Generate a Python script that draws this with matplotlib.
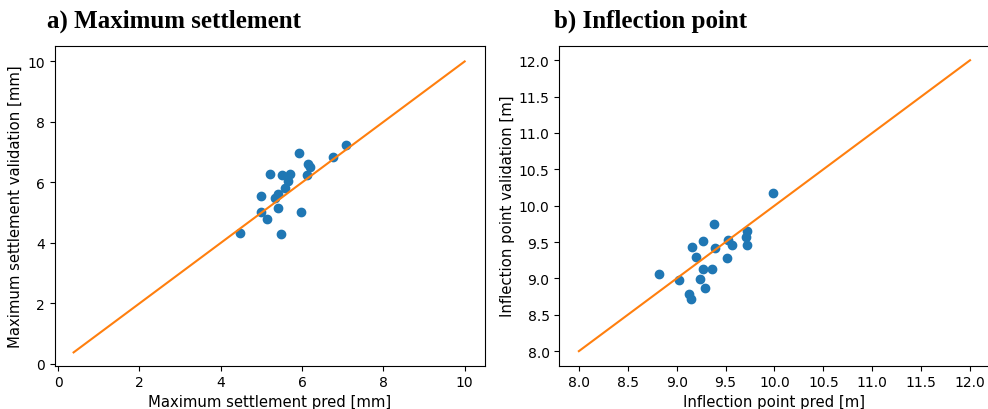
import numpy as np
import matplotlib
matplotlib.use("Agg")
import matplotlib.pyplot as plt

# a) maximum settlement [mm]
settle_pred = [5.92, 7.09, 6.76, 6.15, 6.19, 6.13, 5.21, 5.50, 5.70, 5.66,
               5.59, 5.40, 5.33, 4.99, 5.41, 5.00, 5.13, 5.97, 4.47, 5.48]
settle_val = [6.98, 7.24, 6.83, 6.60, 6.52, 6.24, 6.29, 6.24, 6.29, 6.06,
              5.82, 5.61, 5.48, 5.54, 5.14, 5.02, 4.80, 5.01, 4.33, 4.28]
settle_line = [0.38, 10.0]

# b) inflection point [m]
infl_pred = [9.99, 9.38, 9.72, 9.71, 9.72, 9.52, 9.57, 9.27, 9.16, 9.39,
             9.20, 9.51, 9.27, 9.36, 8.82, 9.02, 9.24, 9.29, 9.13, 9.15]
infl_val = [10.18, 9.75, 9.65, 9.57, 9.46, 9.53, 9.46, 9.51, 9.43, 9.42,
            9.30, 9.28, 9.13, 9.13, 9.06, 8.98, 8.99, 8.87, 8.79, 8.72]
infl_line = [8.0, 12.0]

fig = plt.figure(figsize=(9.88, 4.1), dpi=100)
W, H = 988, 410

def px_axes(x0, x1, y0, y1):
    return fig.add_axes([x0 / W, 1 - y1 / H, (x1 - x0) / W, (y1 - y0) / H])

label_kw = dict(fontsize=10.7)

ax1 = px_axes(54.5, 485, 46.7, 366.7)
ax1.plot(settle_line, settle_line, color="C1")
ax1.scatter(settle_pred, settle_val, color="C0")
ax1.set_xlim(-0.09, 10.5)
ax1.set_ylim(-0.06, 10.52)
ax1.set_xticks(np.arange(0, 11, 2))
ax1.set_yticks(np.arange(0, 11, 2))
ax1.set_xlabel("Maximum settlement pred [mm]", labelpad=3, **label_kw)
ax1.set_ylabel("Maximum settlement validation [mm]", labelpad=3, **label_kw)

ax2 = px_axes(559.3, 989.6, 46.7, 366.7)
ax2.plot(infl_line, infl_line, color="C1")
ax2.scatter(infl_pred, infl_val, color="C0")
ax2.set_xlim(7.8, 12.2)
ax2.set_ylim(7.8, 12.2)
ax2.set_xlabel("Inflection point pred [m]", labelpad=3, **label_kw)
ax2.set_ylabel("Inflection point validation [m]", labelpad=3, **label_kw)

title_kw = dict(family="Liberation Serif", weight="bold", fontsize=18, va="baseline")
fig.text(46.7 / W, 1 - 28 / H, "a) Maximum settlement", **title_kw)
fig.text(554 / W, 1 - 28 / H, "b) Inflection point", **title_kw)

fig.savefig("out.png", dpi=100)
